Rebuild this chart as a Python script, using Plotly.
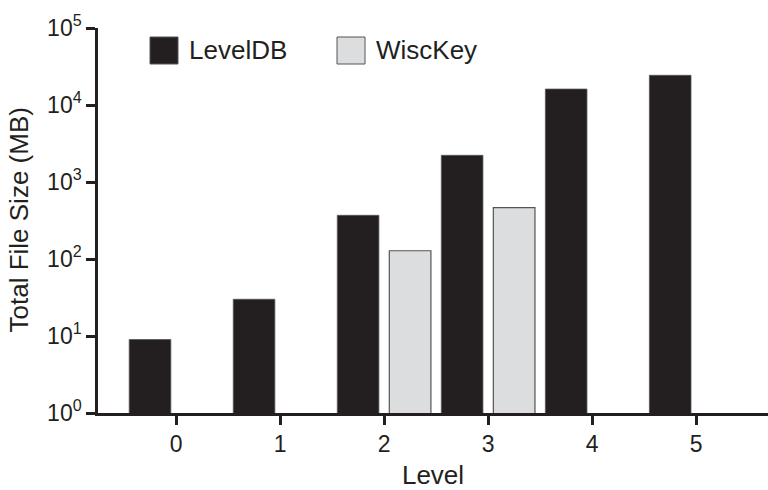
import plotly.graph_objects as go

levels = [0, 1, 2, 3, 4, 5]
leveldb = [9.0, 30, 369, 2220, 16100, 24300]
wisckey_levels = [2, 3]
wisckey = [128, 464]
ytick_vals = [1, 10, 100, 1000, 10000, 100000]
ytick_text = ["10<sup>0</sup>", "10<sup>1</sup>", "10<sup>2</sup>", "10<sup>3</sup>", "10<sup>4</sup>", "10<sup>5</sup>"]

dark = "#231f20"
light = "#dcdddf"
font_family = "Liberation Sans, Arial, sans-serif"

fig = go.Figure()
fig.add_trace(go.Bar(x=levels, y=leveldb, name="LevelDB", width=0.4, offset=-0.45,
                     marker=dict(color=dark, line=dict(color="#555555", width=0.8))))
fig.add_trace(go.Bar(x=wisckey_levels, y=wisckey, name="WiscKey", width=0.4, offset=0.05,
                     marker=dict(color=light, line=dict(color="#555555", width=1.2))))

# legend drawn manually (large swatches)
legend_items = [("LevelDB", dark, 150), ("WiscKey", light, 337)]
for name, col, x0 in legend_items:
    fig.add_shape(type="rect", xref="paper", yref="paper",
                  x0=(x0 - 98) / 670, x1=(x0 + 28 - 98) / 670,
                  y0=(413 - 64) / 385, y1=(413 - 37) / 385,
                  fillcolor=col, line=dict(color="#555555", width=1))
    fig.add_annotation(text=name, xref="paper", yref="paper",
                       x=(x0 + 37 - 98) / 670, y=(413 - 50) / 385,
                       xanchor="left", yanchor="middle", showarrow=False,
                       font=dict(size=26, color=dark, family=font_family))

# y axis title as rotated annotation
fig.add_annotation(text="Total File Size (MB)", xref="paper", yref="paper",
                   x=(18 - 98) / 670, y=0.5, textangle=-90,
                   xanchor="center", yanchor="middle", showarrow=False,
                   font=dict(size=26, color=dark, family=font_family))

fig.update_layout(
    width=768, height=490,
    margin=dict(l=98, r=0, t=28, b=77),
    plot_bgcolor="white", paper_bgcolor="white",
    showlegend=False,
    font=dict(family=font_family, color=dark, size=23),
)
fig.update_xaxes(
    range=[-0.75, 5.69], tickvals=levels, ticktext=[str(v) for v in levels],
    showgrid=False, zeroline=False,
    showline=True, linecolor=dark, linewidth=2.5,
    ticks="outside", ticklen=9, tickwidth=2.5, tickcolor=dark,
    tickfont=dict(size=23), title=dict(text="Level", font=dict(size=26), standoff=12),
)
fig.update_yaxes(
    type="log", range=[0, 5], tickvals=ytick_vals, ticktext=ytick_text,
    showgrid=False, zeroline=False,
    showline=True, linecolor=dark, linewidth=2.5,
    ticks="outside", ticklen=9, tickwidth=2.5, tickcolor=dark,
    tickfont=dict(size=23),
)

fig.write_html("out.html")
